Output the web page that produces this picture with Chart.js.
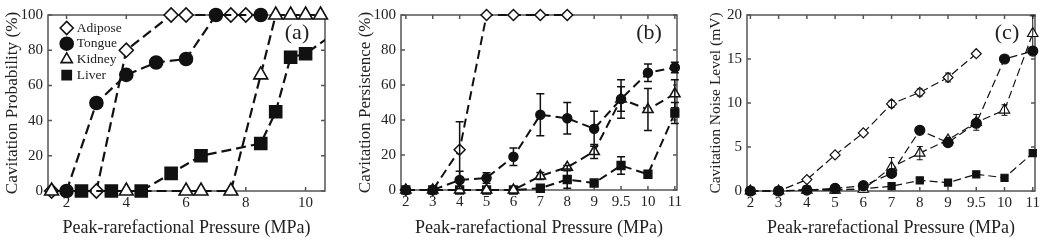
<!DOCTYPE html>
<html>
<head>
<meta charset="utf-8">
<script src="https://cdn.jsdelivr.net/npm/chart.js@4.4.0/dist/chart.umd.min.js"></script>
<style>
    html, body { margin: 0; padding: 0; background: #fff; }
    #wrap { position: relative; width: 1050px; height: 249px; overflow: hidden; }
    .panel { position: absolute; top: 0; width: 350px; height: 249px; }
</style>
</head>
<body>
<div id="wrap">
    <div class="panel" style="left:0"><canvas id="chartA"></canvas></div>
    <div class="panel" style="left:350px"><canvas id="chartB"></canvas></div>
    <div class="panel" style="left:700px"><canvas id="chartC"></canvas></div>
</div>
<script>
/** 横坐标 (b)(c) 压力档位 */
var pressureLabels = ['2', '3', '4', '5', '6', '7', '8', '9', '9.5', '10', '11']
var tissues = ['Adipose', 'Tongue', 'Kidney', 'Liver']
var xTicksA = [2, 4, 6, 8, 10]
var yTicksPct = [0, 20, 40, 60, 80, 100]
var yTicksNoise = [0, 5, 10, 15, 20]

/** (a) Cavitation Probability, every tissue has its own pressures */
var probAdiposeX = [1.5, 3, 4, 5.5, 6, 7.5, 8]
var probAdiposeY = [0, 0, 80, 100, 100, 100, 100]
var probTongueX = [2, 3, 4, 5, 6, 7, 8.5]
var probTongueY = [0, 50, 66, 73, 75, 100, 100]
var probKidneyX = [1.5, 4, 6, 6.5, 7.5, 8.5, 9, 9.5, 10, 10.5]
var probKidneyY = [0, 0, 0, 0, 0, 66, 100, 100, 100, 100]
var probLiverX = [2.5, 3.5, 4.5, 5.5, 6.5, 8.5, 9, 9.5, 10, 11]
var probLiverY = [0, 0, 0, 10, 20, 27, 45, 76, 78, 90]

/** (b) Cavitation Persistence */
var persAdipose = [0, 0, 23, 100, 100, 100, 100]
var persAdiposeErr = [0, 0, 16, 0, 0, 0, 0]
var persTongue = [0, 0, 5.7, 6.9, 19, 43, 41, 35, 52, 67, 70]
var persTongueErr = [0, 0, 5, 3, 5, 12, 9, 10, 7, 5, 3]
var persKidney = [0, 0, 0, 0, 0, 8, 13, 22, 52, 46, 55]
var persKidneyErr = [0, 0, 0, 0, 0, 2, 1, 4, 11, 12, 8]
var persLiver = [0, 0, 0, 0, 0, 1, 6, 4, 14, 9, 44]
var persLiverErr = [0, 0, 0, 0, 0, 0, 5, 0, 5, 0, 6]

/** (c) Cavitation Noise Level */
var noiseAdipose = [0, 0, 1.3, 4.1, 6.6, 9.9, 11.2, 12.9, 15.6]
var noiseAdiposeErr = [0, 0, 0, 0, 0, 0.4, 0.4, 0.5, 0]
var noiseTongue = [0, 0, 0.1, 0.3, 0.6, 2.0, 6.9, 5.5, 7.7, 15.0, 15.9]
var noiseKidney = [0, 0, 0.1, 0.1, 0.2, 2.7, 4.3, 5.8, 7.8, 9.2, 17.9]
var noiseKidneyErr = [0, 0, 0, 0, 0, 1.1, 0.75, 0.3, 0.9, 0.6, 2]
var noiseLiver = [0, 0, 0.15, 0.15, 0.25, 0.55, 1.2, 0.95, 1.9, 1.5, 4.3]

var INK = '#111'
var TEXT = '#222'
var SERIF = '"Liberation Serif", "Times New Roman", serif'

/** 外框 + 内向刻度 */
var framePlugin = {
    id: 'frame',
    beforeDatasetsDraw: function (chart) {
        var a = chart.chartArea, ctx = chart.ctx
        var xs = chart.scales.x, ys = chart.scales.y
        ctx.save()
        ctx.strokeStyle = '#555'
        ctx.lineWidth = 1.5
        ctx.strokeRect(a.left, a.top, a.right - a.left, a.bottom - a.top)
        ctx.beginPath()
        xs.ticks.forEach(function (t, i) {
            var px = xs.getPixelForTick(i)
            ctx.moveTo(px, a.bottom); ctx.lineTo(px, a.bottom - 4)
            ctx.moveTo(px, a.top); ctx.lineTo(px, a.top + 4)
        })
        ys.ticks.forEach(function (t, i) {
            var py = ys.getPixelForTick(i)
            ctx.moveTo(a.left, py); ctx.lineTo(a.left + 4, py)
            ctx.moveTo(a.right, py); ctx.lineTo(a.right - 4, py)
        })
        ctx.stroke()
        ctx.restore()
    }
}

/** 误差棒 */
var errorBarPlugin = {
    id: 'errorBars',
    afterDatasetsDraw: function (chart, args, opts) {
        var ctx = chart.ctx, ys = chart.scales.y
        chart.data.datasets.forEach(function (ds, i) {
            if (!ds.errorBars) return
            var meta = chart.getDatasetMeta(i)
            ctx.save()
            ctx.strokeStyle = INK
            ctx.lineWidth = opts.width
            ctx.beginPath()
            meta.data.forEach(function (pt, j) {
                var e = ds.errorBars[j]
                if (!e) return
                var v = ds.data[j].y
                var top = ys.getPixelForValue(v + e)
                var bot = ys.getPixelForValue(Math.max(0, v - e))
                ctx.moveTo(pt.x, top); ctx.lineTo(pt.x, bot)
                ctx.moveTo(pt.x - opts.cap, top); ctx.lineTo(pt.x + opts.cap, top)
                ctx.moveTo(pt.x - opts.cap, bot); ctx.lineTo(pt.x + opts.cap, bot)
            })
            ctx.stroke()
            ctx.restore()
        })
    }
}

/** (a)(b)(c) 面板标号 */
var panelLabelPlugin = {
    id: 'panelLabel',
    afterDraw: function (chart, args, opts) {
        var a = chart.chartArea, ctx = chart.ctx
        ctx.save()
        ctx.fillStyle = TEXT
        ctx.font = '22px ' + SERIF
        ctx.textAlign = 'center'
        ctx.textBaseline = 'middle'
        ctx.fillText(opts.text, a.right - 28, a.top + 18)
        ctx.restore()
    }
}

/** 图例画在绘图区左上角, 点形取自各 dataset */
var insideLegendPlugin = {
    id: 'insideLegend',
    afterDraw: function (chart, args, opts) {
        if (!opts.show) return
        var ctx = chart.ctx
        ctx.save()
        ctx.font = opts.fontSize + 'px ' + SERIF
        ctx.textBaseline = 'middle'
        ctx.textAlign = 'left'
        chart.data.datasets.forEach(function (ds, i) {
            var y = opts.top + i * opts.step
            ctx.fillStyle = ds.pointBackgroundColor
            ctx.strokeStyle = ds.pointBorderColor
            ctx.lineWidth = ds.pointBorderWidth
            Chart.helpers.drawPoint(ctx, {
                pointStyle: ds.pointStyle,
                radius: opts.radius,
                rotation: 0,
                borderWidth: ds.pointBorderWidth
            }, opts.left, y)
            ctx.fillStyle = TEXT
            ctx.fillText(ds.label, opts.left + opts.gap, y)
        })
        ctx.restore()
    }
}

var cavitation = {
    charts: [],
    init: function () {
        Chart.defaults.font.family = SERIF
        Chart.defaults.color = TEXT
        Chart.defaults.animation = false
        cavitation.charts.push(cavitation.funcs.createProbability())
        cavitation.charts.push(cavitation.funcs.createPersistence())
        cavitation.charts.push(cavitation.funcs.createNoise())
    },
    funcs: {
        /** 每种组织的点形 */
        markerStyle: function (name, look) {
            var open = name === 'Adipose' || name === 'Kidney'
            var shape = { Adipose: 'rectRot', Tongue: 'circle', Kidney: 'triangle', Liver: 'rect' }[name]
            return {
                pointStyle: shape,
                pointRadius: look.radius[name],
                pointBackgroundColor: open ? '#fff' : INK,
                pointBorderColor: INK,
                pointBorderWidth: look.markerBorder,
                borderColor: INK,
                borderWidth: look.lineWidth,
                borderDash: look.dash,
                backgroundColor: open ? '#fff' : INK,
                fill: false,
                tension: 0
            }
        },
        makeDataset: function (name, points, look, errs) {
            var ds = cavitation.funcs.markerStyle(name, look)
            ds.label = name
            ds.data = points
            ds.clip = false
            ds.order = name === 'Adipose' ? 1 : 0
            if (errs) ds.errorBars = errs
            return ds
        },
        xyPoints: function (xs, ys) {
            return xs.map(function (x, i) { return { x: x, y: ys[i] } })
        },
        indexPoints: function (ys) {
            return ys.map(function (y, i) { return { x: i, y: y } })
        },
        baseOptions: function (g) {
            return {
                responsive: true,
                maintainAspectRatio: false,
                devicePixelRatio: 1,
                events: [],
                layout: { padding: { top: g.top, right: g.right, left: 0, bottom: 0 } },
                scales: {
                    x: {
                        type: 'linear',
                        min: g.xMin,
                        max: g.xMax,
                        afterBuildTicks: function (s) { s.ticks = g.xTicks.map(function (v) { return { value: v } }) },
                        afterFit: function (s) { s.height = 249 - g.bottom },
                        grid: { display: false, drawTicks: false },
                        border: { display: false },
                        ticks: {
                            padding: 3,
                            maxRotation: 0,
                            font: { size: 15 },
                            color: TEXT,
                            callback: g.xLabel
                        },
                        title: {
                            display: true,
                            text: 'Peak-rarefactional Pressure (MPa)',
                            font: { size: 18 },
                            color: TEXT,
                            padding: { top: 0, bottom: 10 }
                        }
                    },
                    y: {
                        min: g.yMin,
                        max: g.yMax,
                        afterBuildTicks: function (s) { s.ticks = g.yTicks.map(function (v) { return { value: v } }) },
                        afterFit: function (s) { s.width = g.left },
                        grid: { display: false, drawTicks: false },
                        border: { display: false },
                        ticks: { padding: 5, font: { size: 15 }, color: TEXT },
                        title: {
                            display: true,
                            text: g.yTitle,
                            font: { size: g.yTitleSize },
                            color: TEXT,
                            padding: { top: g.yTitlePad, bottom: 0 }
                        }
                    }
                },
                plugins: {
                    legend: { display: false },
                    tooltip: { enabled: false },
                    panelLabel: { text: g.label },
                    errorBars: g.errorBars || { width: 1.5, cap: 4 },
                    insideLegend: { show: false }
                }
            }
        },
        createProbability: function () {
            var look = {
                radius: { Adipose: 7, Tongue: 6.5, Kidney: 8, Liver: 8.5 },
                markerBorder: 1.6, lineWidth: 2.2, dash: [10, 5]
            }
            var f = cavitation.funcs
            var datasets = [
                f.makeDataset(tissues[0], f.xyPoints(probAdiposeX, probAdiposeY), look),
                f.makeDataset(tissues[1], f.xyPoints(probTongueX, probTongueY), look),
                f.makeDataset(tissues[2], f.xyPoints(probKidneyX, probKidneyY), look),
                f.makeDataset(tissues[3], f.xyPoints(probLiverX, probLiverY), look)
            ]
            // liver line runs out of the right edge
            datasets[3].clip = { left: false, top: false, right: 0, bottom: false }
            var opts = f.baseOptions({
                top: 15, right: 25, left: 48, bottom: 191,
                xMin: 1.38, xMax: 10.65, xTicks: xTicksA,
                yMin: 0, yMax: 100, yTicks: yTicksPct,
                yTitle: 'Cavitation Probability (%)', yTitleSize: 17.2, yTitlePad: 2.2, label: '(a)'
            })
            opts.plugins.insideLegend = { show: true, left: 66.7, top: 28, step: 15.7, gap: 10, radius: 6.5, fontSize: 13.5 }
            return new Chart(document.getElementById('chartA').getContext('2d'), {
                type: 'line',
                data: { datasets: datasets },
                options: opts,
                plugins: [framePlugin, errorBarPlugin, panelLabelPlugin, insideLegendPlugin]
            })
        },
        createPersistence: function () {
            var look = {
                radius: { Adipose: 5.5, Tongue: 4.5, Kidney: 6, Liver: 5.5 },
                markerBorder: 1.5, lineWidth: 2, dash: [9, 5]
            }
            var f = cavitation.funcs
            var datasets = [
                f.makeDataset(tissues[0], f.indexPoints(persAdipose), look, persAdiposeErr),
                f.makeDataset(tissues[1], f.indexPoints(persTongue), look, persTongueErr),
                f.makeDataset(tissues[2], f.indexPoints(persKidney), look, persKidneyErr),
                f.makeDataset(tissues[3], f.indexPoints(persLiver), look, persLiverErr)
            ]
            var opts = f.baseOptions({
                top: 15, right: 23, left: 51, bottom: 190,
                xMin: -0.18, xMax: 10.08, xTicks: pressureLabels.map(function (l, i) { return i }),
                xLabel: function (v) { return pressureLabels[v] },
                yMin: 0, yMax: 100, yTicks: yTicksPct,
                yTitle: 'Cavitation Persistence (%)', yTitleSize: 17, yTitlePad: 5.3, label: '(b)',
                errorBars: { width: 1.5, cap: 4 }
            })
            return new Chart(document.getElementById('chartB').getContext('2d'), {
                type: 'line',
                data: { datasets: datasets },
                options: opts,
                plugins: [framePlugin, errorBarPlugin, panelLabelPlugin]
            })
        },
        createNoise: function () {
            var look = {
                radius: { Adipose: 5, Tongue: 5, Kidney: 6, Liver: 5 },
                markerBorder: 1.2, lineWidth: 1.2, dash: [8, 4]
            }
            var f = cavitation.funcs
            var datasets = [
                f.makeDataset(tissues[0], f.indexPoints(noiseAdipose), look, noiseAdiposeErr),
                f.makeDataset(tissues[1], f.indexPoints(noiseTongue), look),
                f.makeDataset(tissues[2], f.indexPoints(noiseKidney), look, noiseKidneyErr),
                f.makeDataset(tissues[3], f.indexPoints(noiseLiver), look)
            ]
            var opts = f.baseOptions({
                top: 15, right: 15, left: 47, bottom: 191,
                xMin: -0.12, xMax: 10.08, xTicks: pressureLabels.map(function (l, i) { return i }),
                xLabel: function (v) { return pressureLabels[v] },
                yMin: 0, yMax: 20, yTicks: yTicksNoise,
                yTitle: 'Cavitation Noise Level (mV)', yTitleSize: 15.5, yTitlePad: 6.2, label: '(c)',
                errorBars: { width: 1, cap: 3 }
            })
            return new Chart(document.getElementById('chartC').getContext('2d'), {
                type: 'line',
                data: { datasets: datasets },
                options: opts,
                plugins: [framePlugin, errorBarPlugin, panelLabelPlugin]
            })
        }
    }
}

cavitation.init()
</script>
</body>
</html>
